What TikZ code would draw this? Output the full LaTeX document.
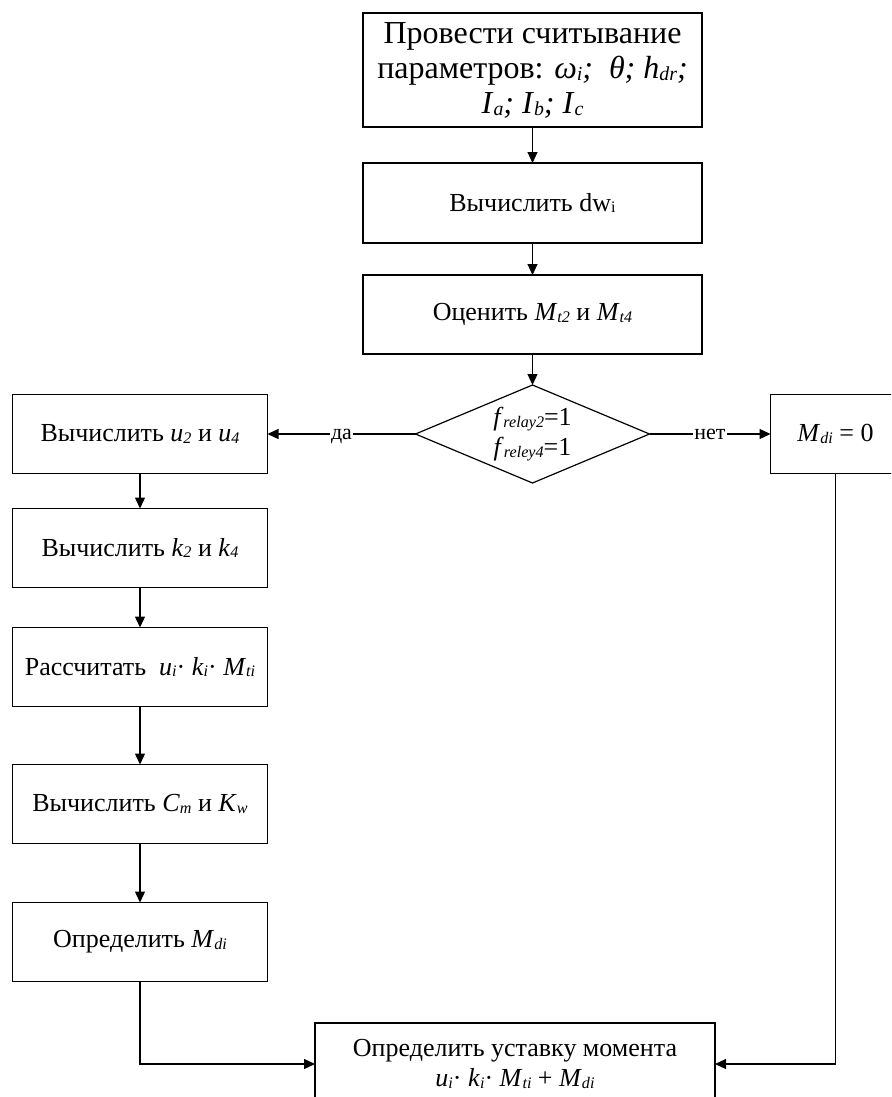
\documentclass[tikz,border=0pt]{standalone}
\usepackage{fontspec}
\setmainfont{Liberation Serif}
\usepackage{graphicx}
\usepackage{tikz}
\usetikzlibrary{positioning}
\usetikzlibrary{shapes.geometric}
\usetikzlibrary{arrows.meta}
% small italic index, set almost on the baseline
\newcommand{\ix}[1]{\raisebox{-0.15ex}{\scalebox{0.62}{\itshape #1}}}
\tikzset{
box/.style={ % Sets the properties for each process block
draw,
line width=1.2pt,
outer sep=0pt,
minimum width=339pt,
minimum height=80pt,
align=center,
inner sep=2pt,
font=\fontsize{26}{30}\selectfont},
sidebox/.style={box, minimum width=255pt, minimum height=79pt},
test/.style={ % Decision block
diamond,
draw,
line width=1.2pt,
outer sep=0pt,
aspect=2.4,
minimum width=234pt,
minimum height=98pt,
inner sep=0pt,
align=center,
font=\fontsize{26}{30}\selectfont},
arr/.style={-{Triangle[length=11pt,width=10pt]}, line width=1.2pt}, % connectors
lbl/.style={fill=white, inner sep=1.5pt, anchor=base, yshift=-5.5pt, font=\fontsize{22}{24}\selectfont}}

\begin{document}
\begin{tikzpicture}
    \clip (0,0) rectangle (891pt,-1097pt);
    \node[box, minimum height=114pt, font=\fontsize{32}{35}\selectfont] (read) at (532.5pt,-70pt)
        {Провести считывание\\параметров: \textit{ω}\ix{i}\textit{;}\ \ \textit{θ; h}\ix{dr}\textit{;}\\\textit{I}\ix{a}\textit{; I}\ix{b}\textit{; I}\ix{c}};
    \node[box, below=36pt of read] (dw) {Вычислить dw\ix{\upshape i}};
    \node[box, minimum height=79pt, below=32pt of dw] (mt) {Оценить \textit{M}\ix{t2} и \textit{M}\ix{t4}};
    \node[test, below=31pt of mt] (dec) {\textit{f}\ix{relay2}=1\\\textit{f}\ix{reley4}=1};
    \node[sidebox, left=148pt of dec] (u) {Вычислить \textit{u}\ix{2} и \textit{u}\ix{4}};
    \node[box, minimum width=130pt, minimum height=79pt, right=121pt of dec] (mzero) {\textit{M}\ix{di} = 0};
    \node[sidebox, below=35pt of u] (k) {Вычислить \textit{k}\ix{2} и \textit{k}\ix{4}};
    \node[sidebox, below=40pt of k] (calc) {Рассчитать\ \ \textit{u}\ix{i}· \textit{k}\ix{i}· \textit{M}\ix{ti}};
    \node[sidebox, below=58pt of calc] (cm) {Вычислить \textit{C}\ix{m} и \textit{K}\ix{w}};
    \node[sidebox, below=59pt of cm] (mdi) {Определить \textit{M}\ix{di}};
    \node[box, minimum width=400pt, minimum height=82pt] (sp) at (515pt,-1064pt)
        {Определить уставку момента\\\textit{u}\ix{i}· \textit{k}\ix{i}· \textit{M}\ix{ti} + \textit{M}\ix{di}};
    \draw[arr] (read) -- (dw);
    \draw[arr] (dw) -- (mt);
    \draw[arr] (mt) -- (dec);
    \draw[arr] (dec) -- node[lbl] {да} (u);
    \draw[arr] (dec) -- node[lbl] {нет} (mzero);
    \draw[arr] (u) -- (k);
    \draw[arr] (k) -- (calc);
    \draw[arr] (calc) -- (cm);
    \draw[arr] (cm) -- (mdi);
    \draw[arr] (mdi) |- (sp);
    \draw[arr] (mzero) |- (sp);
\end{tikzpicture}
\end{document}
